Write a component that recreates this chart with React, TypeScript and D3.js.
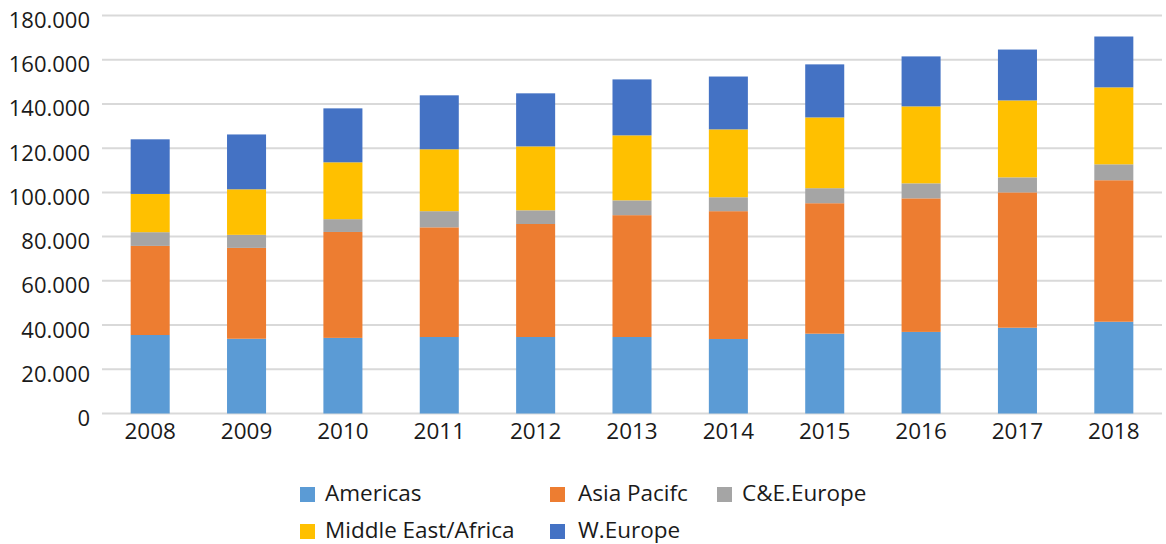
import React, { useEffect, useRef } from "react";
import * as d3 from "d3";

const years = ["2008", "2009", "2010", "2011", "2012", "2013", "2014", "2015", "2016", "2017", "2018"];
const americas = [35500, 33800, 34200, 34600, 34600, 34600, 33700, 36100, 36900, 38800, 41500];
const asiaPacific = [40300, 41100, 47900, 49600, 51100, 55100, 57800, 59000, 60400, 61200, 64000];
const ceEurope = [6200, 5900, 5800, 7300, 6200, 6700, 6300, 6800, 6800, 6800, 7200];
const middleEastAfrica = [17300, 20600, 25700, 28000, 28900, 29400, 30700, 32000, 34800, 34800, 34800];
const wEurope = [24700, 24800, 24400, 24400, 24000, 25300, 23900, 24000, 22600, 23000, 23000];
const yTicks = [0, 20000, 40000, 60000, 80000, 100000, 120000, 140000, 160000, 180000];

const seriesNames = ["Americas", "Asia Pacifc", "C&E.Europe", "Middle East/Africa", "W.Europe"];
const seriesColors = ["#5B9BD5", "#ED7D31", "#A5A5A5", "#FFC000", "#4472C4"];

const W = 1166;
const H = 544;
const font = "'Open Sans', sans-serif";

export default function App() {
  const ref = useRef<SVGSVGElement>(null);

  useEffect(() => {
    const svg = d3.select(ref.current);
    svg.selectAll("*").remove();

    const left = 102;
    const right = 1162;
    const top = 15.5;
    const bottom = 413.5;

    const x = d3.scaleBand().domain(years).range([left, right]).paddingInner(0.595).paddingOuter(0.2975);
    const y = d3.scaleLinear().domain([0, 180000]).range([bottom, top]);

    // gridlines
    svg
      .append("g")
      .selectAll("line")
      .data(yTicks)
      .enter()
      .append("line")
      .attr("x1", left)
      .attr("x2", right)
      .attr("y1", (d) => y(d))
      .attr("y2", (d) => y(d))
      .style("stroke", "#D9D9D9")
      .style("stroke-width", 2);

    // y labels
    svg
      .append("g")
      .selectAll("text")
      .data(yTicks)
      .enter()
      .append("text")
      .attr("x", 90)
      .attr("y", (d) => y(d) + 12.5)
      .attr("text-anchor", "end")
      .style("font-family", font)
      .style("font-size", "22px")
      .style("fill", "#1a1a1a")
      .text((d) => (d === 0 ? "0" : d3.format(",")(d).replace(/,/g, ".")));

    // stacked bars
    const table = years.map((yr, i) => ({
      year: yr,
      s0: americas[i],
      s1: asiaPacific[i],
      s2: ceEurope[i],
      s3: middleEastAfrica[i],
      s4: wEurope[i],
    }));
    const stack = d3.stack<any>().keys(["s0", "s1", "s2", "s3", "s4"])(table);

    svg
      .append("g")
      .selectAll("g")
      .data(stack)
      .enter()
      .append("g")
      .style("fill", (d, i) => seriesColors[i])
      .selectAll("rect")
      .data((d) => d)
      .enter()
      .append("rect")
      .attr("x", (d: any) => x(d.data.year)!)
      .attr("width", x.bandwidth())
      .attr("y", (d) => y(d[1]))
      .attr("height", (d) => y(d[0]) - y(d[1]));

    // x labels
    svg
      .append("g")
      .selectAll("text")
      .data(years)
      .enter()
      .append("text")
      .attr("x", (d) => x(d)! + x.bandwidth() / 2)
      .attr("y", 439)
      .attr("text-anchor", "middle")
      .style("font-family", font)
      .style("font-size", "22.5px")
      .style("fill", "#1a1a1a")
      .text((d) => d);

    // legend
    const legendPos = [
      [300, 501],
      [550, 501],
      [717, 501],
      [300, 538],
      [550, 538],
    ];
    const lg = svg
      .append("g")
      .selectAll("g")
      .data(seriesNames)
      .enter()
      .append("g")
      .attr("transform", (d, i) => `translate(${legendPos[i][0]},${legendPos[i][1]})`);
    lg.append("rect")
      .attr("x", 0)
      .attr("y", -14)
      .attr("width", 15)
      .attr("height", 15)
      .style("fill", (d, i) => seriesColors[i]);
    lg.append("text")
      .attr("x", (d, i) => (i === 1 || i === 4 ? 28 : 25))
      .attr("y", 0)
      .style("font-family", font)
      .style("font-size", "22.5px")
      .style("fill", "#1a1a1a")
      .text((d) => d);
  }, []);

  return (
    <div style={{ position: "absolute", left: 0, top: 0, width: W, height: H, background: "#fff" }}>
      <svg ref={ref} width={W} height={H} style={{ display: "block" }} />
    </div>
  );
}
